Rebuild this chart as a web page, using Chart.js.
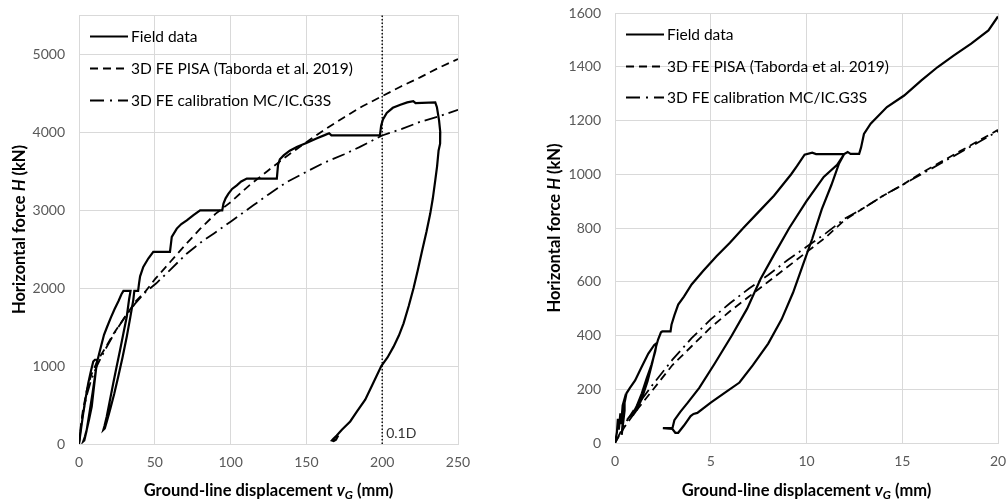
<!DOCTYPE html>
<html><head><meta charset="utf-8">
<script src="https://cdn.jsdelivr.net/npm/chart.js@4"></script>
<style>
html,body{margin:0;padding:0;background:#fff;overflow:hidden;width:1008px;height:502px;}
#c1{position:absolute;left:0;top:0;}
#c2{position:absolute;left:504px;top:0;}
</style></head><body>
<canvas id="c1" width="504" height="502"></canvas>
<canvas id="c2" width="524" height="502"></canvas>
<script>
// ---------- DATA (x = ground-line displacement mm, y = horizontal force kN) ----------
const seriesNames = ['Field data', '3D FE PISA (Taborda et al. 2019)', '3D FE calibration MC/IC.G3S'];

const leftField = [
 [0,0],[1.4,200],[2.8,396],[4.5,600],[6.1,780],[7.8,930],[9.4,1057],[10.5,1080],[12,1080],
 [11.2,950],[9.8,720],[8.4,481],[6.7,320],[5.1,183],[3.8,90],[2.8,33],
 [3.5,45],[5,170],[7,410],[9,660],[10.5,860],[11.5,1000],[12.3,1080],
 [13.2,1150],[14.5,1250],[16.5,1400],[18.5,1500],[21,1620],[23.5,1730],[26,1830],[28,1920],[29.3,1962],[34,1962],
 [33,1850],[31.5,1632],[29.3,1420],[27.1,1206],[24.8,990],[22.6,780],[20.4,560],[18.3,353],[16.8,230],[16.1,183],
 [17,200],[18.5,300],[20.5,439],[23.2,640],[25.9,865],[28.7,1110],[31.5,1376],[33.8,1620],[35.8,1845],[36.5,1962],[39,1962],
 [39.6,2060],[40.3,2150],[42.4,2271],[45.7,2378],[49,2463],[60,2463],[60.6,2560],[61.2,2655],[64.5,2762],[67.5,2820],
 [71.1,2868],[75.5,2935],[79.9,2996],[94.5,2996],[95.3,3082],[96.7,3150],[98.6,3210],[101,3270],[104.1,3316],[107,3365],
 [110.7,3402],[130.5,3402],[131.3,3580],[132.5,3650],[135,3700],[139,3760],[144,3810],[150,3860],[157,3921],[162,3960],
 [165,3985],[166.5,3958],[198.5,3958],[199.3,4080],[200.5,4160],[203,4245],[207,4310],[212,4350],[216.5,4380],[220.5,4395],
 [222,4370],[235,4381],
 [236.1,4317],[237.5,4150],[238.3,4000],[238.2,3850],[237.2,3763],[236.2,3560],[235,3380],[233.4,3150],[231.7,2954],
 [229.2,2720],[226.4,2485],[223.5,2230],[220.7,2000],[217.5,1770],[214.1,1547],[211,1390],[207.5,1248],[203.5,1110],
 [199.4,1000],[194,780],[188.8,568],[183.5,420],[178.9,289],[173.4,183],[170,110],[167.5,62],[166.8,46],[168,38],[169.5,55],[171,110]
];
const leftPisa = [
 [0,0],[1,200],[2.5,420],[5,680],[8,880],[12,1060],[17,1220],[23,1420],[30,1620],[37,1820],[44,1960],[50,2110],
 [60,2330],[70,2550],[80,2760],[90,2950],[100,3100],[112,3310],[125,3510],[137,3690],[150,3870],[162,4030],[175,4190],
 [187,4330],[200,4460],[212,4580],[225,4700],[237,4820],[250,4936]
];
const leftCalib = [
 [0,0],[1,180],[2.5,380],[5,620],[8,820],[12,1010],[17,1200],[23,1410],[30,1620],[37,1800],[44,1950],[51,2060],
 [60,2230],[71,2440],[80,2580],[89,2700],[100,2850],[115,3060],[125,3200],[137,3358],[150,3490],[161,3600],[175,3715],
 [185,3806],[200,3955],[213,4040],[225,4130],[238,4205],[250,4284]
];
const leftMarker = [[200,0],[200,5500]];   // 0.1D reference line
const leftMarkerLabel = '0.1D';

const rightField = [
 [0,0],[0.1,40],[0.15,90],[0.2,50],[0.28,110],[0.32,70],[0.4,140],[0.48,160],[0.5,120],[0.4,60],[0.35,30],[0.42,90],
 [0.5,150],[0.6,185],[0.78,205],[1.05,233],[1.39,283],[1.74,333],[2.05,365],[2.18,372],
 [2.1,340],[1.9,290],[1.65,240],[1.4,185],[1.15,140],[0.95,112],[0.8,100],
 [0.95,105],[1.15,125],[1.4,165],[1.7,230],[1.95,300],[2.15,360],[2.25,385],[2.4,412],[2.47,415],[2.9,415],
 [2.95,440],[3.1,475],[3.3,515],[3.6,545],[4,590],[4.6,640],[5.3,695],[6,745],[6.7,800],[7.5,860],[8.3,920],[9.2,1000],
 [9.5,1030],[9.9,1073],[10.3,1080],[10.5,1075],[11.97,1075],
 [11.6,1035],[10.9,990],[10,900],[9.1,800],[8.3,700],[7.6,610],[6.9,500],[6.1,400],[5.2,295],[4.4,205],[3.8,150],
 [3.4,115],[3.1,85],[3.0,55],[2.5,55],[3.0,52],[3.15,38],[3.3,38],
 [3.6,65],[3.95,100],[4.1,108],[4.3,112],[5.0,150],[5.8,190],[6.5,225],[7.2,290],[8.0,370],[8.7,460],[9.3,560],
 [9.8,660],[10.3,760],[10.8,870],[11.3,960],[11.7,1040],[11.97,1075],[12.15,1083],[12.3,1076],[12.75,1076],
 [12.85,1100],[13.0,1150],[13.35,1188],[14.2,1250],[15.1,1293],[16,1349],[16.85,1399],[17.7,1442],[18.6,1486],
 [19.5,1535],[20,1587]
];
const rightPisa = [
 [0,0],[0.5,60],[1,110],[2,200],[3,290],[4,360],[5,430],[6,490],[7,545],[8,600],[9,655],[10,710],[11,765],
 [12,830],[13,875],[14,920],[15,960],[16,1005],[17,1045],[18,1085],[19,1125],[20,1165]
];
const rightCalib = [
 [0,0],[0.5,70],[1,125],[2,220],[3,310],[4,390],[5,460],[6,520],[7,575],[8,625],[9,680],[10,730],[11,780],
 [12,835],[13,875],[14,920],[15,960],[16,1000],[17,1040],[18,1080],[19,1120],[20,1160]
];

// tick labels and axis ranges
const leftXTicks = [0, 50, 100, 150, 200, 250];
const leftYTicks = [0, 1000, 2000, 3000, 4000, 5000];
const leftXRange = [0, 250];
const leftYRange = [0, 5500];
const rightXTicks = [0, 5, 10, 15, 20];
const rightYTicks = [0, 200, 400, 600, 800, 1000, 1200, 1400, 1600];
const rightXRange = [0, 20];
const rightYRange = [0, 1600];

const xTitleSegs = [{t:'Ground-line displacement '},{t:'v',it:true},{t:'G',it:true,sub:true},{t:' (mm)'}];
const yTitleSegs = [{t:'Horizontal force '},{t:'H',it:true},{t:' (kN)'}];

// ---------- helpers ----------
const FONT = 'Lato, "Open Sans", sans-serif';
const toPts = a => a.map(([x,y]) => ({x, y}));

function segFont(s){
  const size = s.sub ? 12 : 16.5;
  return (s.it ? 'italic ' : '') + 'bold ' + size + 'px ' + FONT;
}
function drawSegs(ctx, segs, cx, cy){
  let total = 0;
  const ws = segs.map(s => { ctx.font = segFont(s); const w = ctx.measureText(s.t).width; total += w; return w; });
  let x = cx - total/2;
  ctx.textAlign = 'left';
  ctx.textBaseline = 'alphabetic';
  segs.forEach((s,i) => { ctx.font = segFont(s); ctx.fillText(s.t, x, cy + (s.sub ? 3 : 0)); x += ws[i]; });
}

const framePlugin = {
  id: 'frame',
  beforeDatasetsDraw(chart){
    const {ctx, chartArea: ca} = chart;
    ctx.save();
    ctx.strokeStyle = '#d9d9d9';
    ctx.lineWidth = 1;
    ctx.strokeRect(Math.round(ca.left)+0.5, Math.round(ca.top)+0.5, Math.round(ca.right-ca.left), Math.round(ca.bottom-ca.top));
    ctx.restore();
  },
  afterDraw(chart, args, opts){
    const {ctx, chartArea: ca} = chart;
    ctx.save();
    ctx.fillStyle = '#000';
    drawSegs(ctx, xTitleSegs, (ca.left+ca.right)/2, opts.xTitleY);
    ctx.translate(opts.yTitleX, (ca.top+ca.bottom)/2);
    ctx.rotate(-Math.PI/2);
    drawSegs(ctx, yTitleSegs, 0, 0);
    ctx.restore();
    // legend inside the plot area
    ctx.save();
    chart.data.datasets.forEach((ds, i) => {
      if (!seriesNames.includes(ds.label)) return;
      const y = Math.round(ca.top + opts.legendTop + i * opts.legendGap) + 0.5;
      const x0 = ca.left + 11, x1 = x0 + 38;
      ctx.strokeStyle = '#000';
      ctx.lineWidth = ds.borderWidth;
      ctx.setLineDash(ds.legendDash || ds.borderDash || []);
      ctx.beginPath(); ctx.moveTo(x0, y); ctx.lineTo(x1, y); ctx.stroke();
      ctx.setLineDash([]);
      ctx.fillStyle = '#000';
      ctx.font = '15.5px ' + FONT;
      ctx.textAlign = 'left';
      ctx.textBaseline = 'middle';
      ctx.fillText(ds.label, x1 + 3, y + 0.5);
    });
    ctx.restore();
    if (opts.markerLabel){
      const xs = chart.scales.x, ys = chart.scales.y;
      ctx.save();
      ctx.fillStyle = '#333';
      ctx.font = '14px ' + FONT;
      ctx.textAlign = 'left';
      ctx.textBaseline = 'middle';
      ctx.fillText(opts.markerLabel, xs.getPixelForValue(opts.markerX) + 4, ys.getPixelForValue(0) - 11);
      ctx.restore();
    }
  }
};

function makeChart(id, field, pisa, calib, xr, yr, xt, yt, cfg){
  const datasets = [
    {label: seriesNames[0], data: toPts(field), borderColor:'#000', borderWidth:2.2, borderDash:[], showLine:true, pointRadius:0, tension:0},
    {label: seriesNames[1], data: toPts(pisa), borderColor:'#000', borderWidth:1.8, borderDash:[8,5], legendDash:[8,5], showLine:true, pointRadius:0, tension:0},
    {label: seriesNames[2], data: toPts(calib), borderColor:'#000', borderWidth:1.8, borderDash:[13,5,2,5], legendDash:[14,6,2,6], showLine:true, pointRadius:0, tension:0}
  ];
  if (cfg.marker){
    datasets.push({label:'0.1D line', data: toPts(cfg.marker), borderColor:'#000', borderWidth:1.4, borderDash:[1.5,2], showLine:true, pointRadius:0});
  }
  const tickFont = {family:FONT, size:14};
  return new Chart(document.getElementById(id), {
    type: 'scatter',
    data: {datasets},
    plugins: [framePlugin],
    options: {
      responsive: false,
      devicePixelRatio: 1,
      animation: false,
      layout: {padding: cfg.padding},
      scales: {
        x: {
          type:'linear', min: xr[0], max: xr[1],
          grid: {color:'#d9d9d9', drawTicks:false},
          border: {display:false},
          ticks: {color:'#595959', font:tickFont, padding:10, maxRotation:0, callback: v => String(v)},
          afterBuildTicks(s){ s.ticks = xt.map(v => ({value:v})); },
          afterFit(s){ s.height = cfg.xAxisH; s.paddingLeft = 0; s.paddingRight = 0; }
        },
        y: {
          type:'linear', min: yr[0], max: yr[1],
          grid: {color:'#d9d9d9', drawTicks:false},
          border: {display:false},
          ticks: {color:'#595959', font:tickFont, padding:14, callback: v => String(v)},
          afterBuildTicks(s){ s.ticks = yt.map(v => ({value:v})); },
          afterFit(s){ s.width = cfg.yAxisW; s.paddingTop = 0; s.paddingBottom = 0; }
        }
      },
      plugins: {
        tooltip: {enabled:false},
        legend: {display:false},
        frame: {xTitleY: 496, yTitleX: cfg.yTitleX, markerLabel: cfg.markerLabel, markerX: 200,
                legendTop: cfg.legendTop, legendGap: cfg.legendGap}
      }
    }
  });
}

makeChart('c1', leftField, leftPisa, leftCalib, leftXRange, leftYRange, leftXTicks, leftYTicks,
  {padding:{left:0, top:15, right:46, bottom:0}, xAxisH:58, yAxisW:79, yTitleX:25, marker:leftMarker, markerLabel:leftMarkerLabel,
   legendTop:21, legendGap:32});
makeChart('c2', rightField, rightPisa, rightCalib, rightXRange, rightYRange, rightXTicks, rightYTicks,
  {padding:{left:0, top:13, right:30, bottom:0}, xAxisH:59, yAxisW:111, yTitleX:56, legendTop:21, legendGap:31.5});
</script></body></html>
